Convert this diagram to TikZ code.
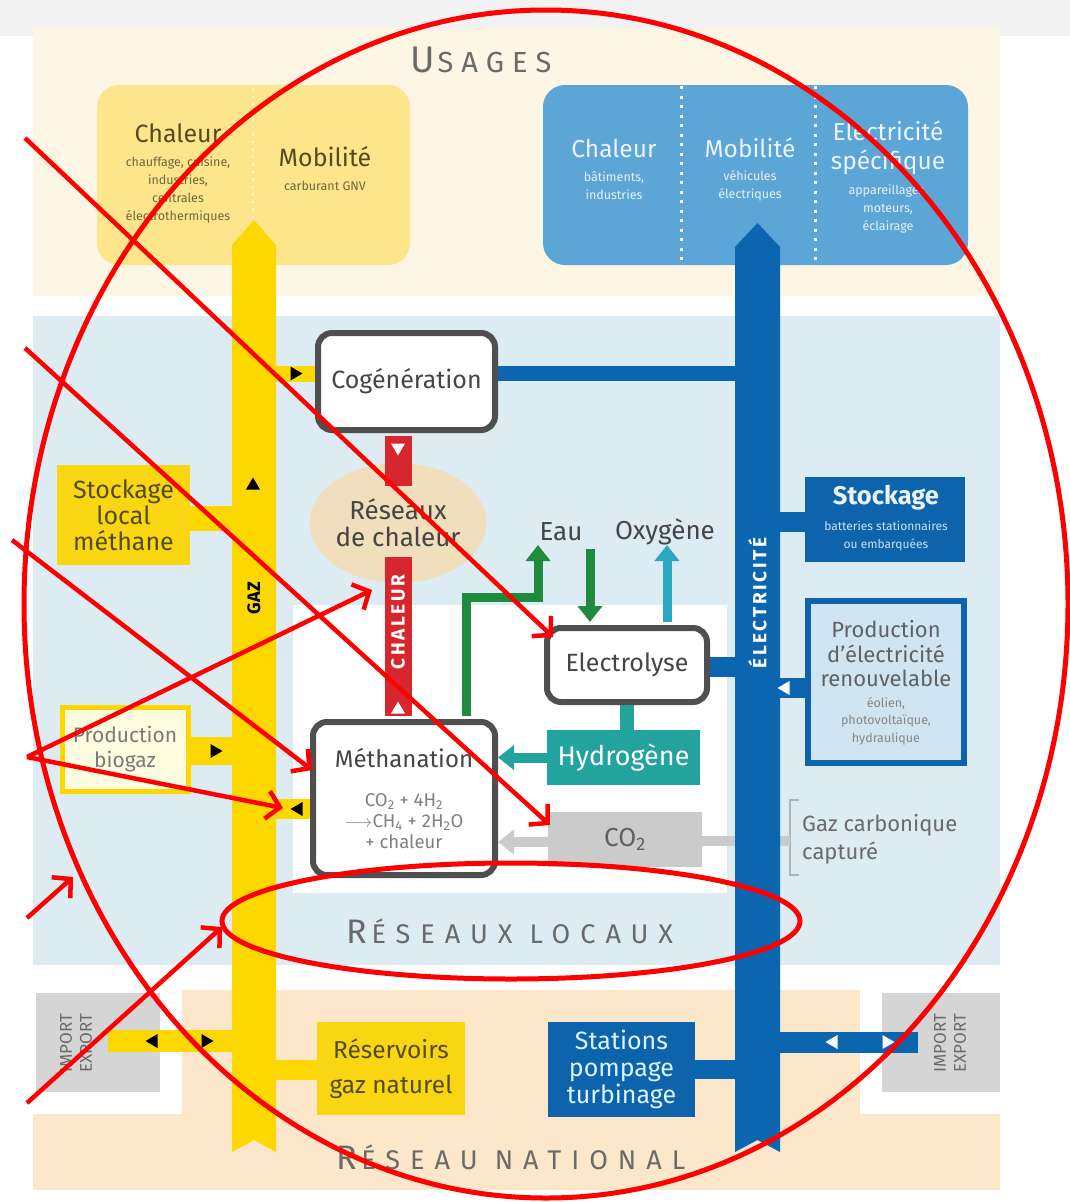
\documentclass[tikz,border=0pt]{standalone}
\usepackage{fontspec}
\setmainfont{Fira Sans}
\newfontfamily\spc[LetterSpace=28]{Fira Sans}
\newfontfamily\spcw[LetterSpace=37]{Fira Sans}
\newfontfamily\spcs[LetterSpace=14]{Fira Sans}
\usetikzlibrary{arrows.meta,shapes.geometric,calc}
\definecolor{topgray}{HTML}{F2F2F2}
\definecolor{creambg}{HTML}{FDF6E4}
\definecolor{localbg}{HTML}{DCECF2}
\definecolor{natbg}{HTML}{FCE7CB}
\definecolor{iegray}{HTML}{D5D5D5}
\definecolor{gasY}{HTML}{FCD800}
\definecolor{gasbox}{HTML}{F9D612}
\definecolor{useY}{HTML}{FDE58C}
\definecolor{useB}{HTML}{5BA5D7}
\definecolor{elB}{HTML}{0B66AF}
\definecolor{boxB}{HTML}{0D63AC}
\definecolor{prodfill}{HTML}{CFE6F2}
\definecolor{hydT}{HTML}{22A39D}
\definecolor{oxyT}{HTML}{2BA7C2}
\definecolor{greenL}{HTML}{1E8B3E}
\definecolor{heatR}{HTML}{D7262E}
\definecolor{beigeE}{HTML}{F0DEBC}
\definecolor{bordG}{HTML}{4F4F4F}
\definecolor{co2G}{HTML}{CBCBCB}
\definecolor{txtG}{HTML}{454545}
\definecolor{oliveT}{HTML}{554B1E}
\definecolor{annR}{HTML}{FF0000}
\newcommand\fz[2]{\fontsize{#1}{#2}\selectfont}
\newcommand\trimark[4]{\fill[#4, shift={(#1,#2)}, rotate=#3] (6.5,0) -- (-5.5,7) -- (-5.5,-7) -- cycle;}
\tikzset{
  lbl/.style={inner sep=0, align=center, text=txtG},
  usebox/.style={rounded corners=22, inner sep=0},
  procbox/.style={draw=bordG, line width=6, rounded corners=14, fill=white, inner sep=0},
  flatbox/.style={inner sep=0, align=center},
  gasline/.style={draw=gasY, line width=#1},
  elline/.style={draw=elB, line width=#1},
  heatbar/.style={draw=heatR, line width=27},
  ann/.style={draw=annR, line width=4.5, -{Straight Barb[length=13pt,width=28pt]}},
  annell/.style={draw=annR, line width=5},
}
\begin{document}
\begin{tikzpicture}[x=1pt,y=-1pt]
\useasboundingbox (0,0) rectangle (1070,1202);
% backgrounds
\fill[white] (0,0) rectangle (1070,1202);
\fill[topgray] (0,0) rectangle (1070,36);
\fill[creambg] (33,28) rectangle (1000,296);
\fill[localbg] (33,316) rectangle (1000,965);
\fill[white] (293,605) rectangle (727,893);
\fill[natbg] (33,990) rectangle (1000,1190);
\fill[white] (33,990) rectangle (182,1114);
\fill[iegray] (36,993) rectangle (160,1092);
\fill[white] (860,990) rectangle (1000,1114);
\fill[iegray] (882,993) rectangle (1000,1092);

% section titles
\node[lbl, text=txtG!80] (usages) at (481,60) {\spc\fz{37}{37}U\kern2.5pt\fz{29}{29}SAGES};
\node[lbl, text=txtG!80] (reslocaux) at (510,931) {\spcw\fz{34}{34}R\kern4pt\fz{27}{27}ÉSEAUX LOCAUX};
\node[lbl, text=txtG!80] (resnat) at (511,1157) {\spcw\fz{34}{34}R\kern4pt\fz{27}{27}ÉSEAU NATIONAL};

% usage boxes
\node[usebox, fill=useY, minimum width=313, minimum height=180] (useg) at (253.5,175) {};
\node[usebox, fill=useB, minimum width=425, minimum height=180] (useb) at (755.5,175) {};
\draw[white!55!useY, line width=2.5, dash pattern=on 2.5 off 5] (253,88) -- (253,262);
\draw[white, line width=3, dash pattern=on 3 off 6.5] (681,86) -- (681,264);
\draw[white, line width=3, dash pattern=on 3 off 6.5] (815,86) -- (815,264);
\node[lbl, text=oliveT, font=\fz{25}{28}] (uc1) at (178,133) {Chaleur};
\node[lbl, text=oliveT!85, font=\fz{12.5}{18}] (uc1s) at (178,189.5) {chauffage, cuisine,\\industries,\\centrales\\électrothermiques};
\node[lbl, text=oliveT, font=\fz{25}{28}] (um1) at (325,157) {Mobilité};
\node[lbl, text=oliveT!85, font=\fz{12.5}{18}] (um1s) at (325,186) {carburant GNV};
\node[lbl, text=white!88!useB, font=\fz{24.5}{29}] (ub1) at (614,148) {Chaleur};
\node[lbl, text=white!85!useB, font=\fz{12.5}{18}] (ub1s) at (614,186) {bâtiments,\\industries};
\node[lbl, text=white!88!useB, font=\fz{24.5}{29}] (ub2) at (750,148) {Mobilité};
\node[lbl, text=white!85!useB, font=\fz{12.5}{18}] (ub2s) at (750,186) {véhicules\\électriques};
\node[lbl, text=white!88!useB, font=\fz{24.5}{29}] (ub3) at (888,147.5) {Electricité\\spécifique};
\node[lbl, text=white!85!useB, font=\fz{12.5}{18}] (ub3s) at (888,209) {appareillages,\\moteurs,\\éclairage};

% column reference coordinates
\coordinate (gazcol) at (254,600);
\coordinate (elcol) at (757.5,600);

% main boxes
\node[procbox, minimum width=177, minimum height=97, font=\fz{25}{28}, text=txtG] (cog) at (406.5,381.5) {Cogénération};
\node[ellipse, fill=beigeE, minimum width=174, minimum height=120, inner sep=0, align=center, font=\fz{26}{27}, text=txtG] (rc) at (398,523) {Réseaux\\de chaleur};
\node[procbox, minimum width=182, minimum height=153] (meth) at (404,798.5) {};
\node[lbl, font=\fz{24}{28}] (methT) at (404,758) {Méthanation};
\node[lbl, text=gray, font=\fz{18.5}{22}] (methF) at (404,821) {CO\textsubscript{2} + 4H\textsubscript{2}\\[-1pt]$\longrightarrow$CH\textsubscript{4} + 2H\textsubscript{2}O\\[-1pt]+ chaleur};
\node[procbox, minimum width=160, minimum height=74, font=\fz{25}{28}, text=txtG] (elec) at (627,665) {Electrolyse};
\node[flatbox, fill=hydT, minimum width=153, minimum height=55, text=white, font=\fz{27}{30}] (hyd) at (623.5,757.5) {Hydrogène};
\node[flatbox, fill=co2G, minimum width=154, minimum height=55, text=txtG!85, font=\fz{26}{30}] (co2) at (625,839.5) {CO\textsubscript{2}};
\node[lbl, font=\fz{26}{28}] (eau) at (561,532) {Eau};
\node[lbl, font=\fz{26}{28}] (oxy) at (665,532) {Oxygène};

\node[flatbox, fill=gasbox, minimum width=133, minimum height=100, text=oliveT, font=\fz{25}{26}] (sloc) at (123.5,515) {Stockage\\local\\méthane};
\node[flatbox, fill=white!80!yellow!60!white, draw=gasY, line width=5, minimum width=126, minimum height=84, text=gray!95!black, font=\fz{21}{25}] (biog) at (125,749) {Production\\biogaz};
\node[flatbox, fill=boxB, minimum width=160, minimum height=85] (stk) at (885,519.5) {};
\node[lbl, text=white!92!boxB, font=\bfseries\fz{25.5}{28}] (stkT) at (886,498) {Stockage};
\node[lbl, text=white!80!boxB, font=\fz{12}{18}] (stkS) at (886,536) {batteries stationnaires\\ou embarquées};
\node[flatbox, fill=prodfill, draw=boxB, line width=6, minimum width=156, minimum height=162] (prod) at (886,681.5) {};
\node[lbl, text=txtG!85, font=\fz{22}{24.5}] (prodT) at (886,654) {Production\\d'électricité\\renouvelable};
\node[lbl, text=txtG!65, font=\fz{12.5}{17.5}] (prodS) at (886,721) {éolien,\\photovoltaïque,\\hydraulique};
\node[lbl, anchor=west, align=left, text=txtG!80, font=\fz{22}{28}] (gazcarb) at (802,839) {Gaz carbonique\\capturé};
\draw[gray!60, line width=2] (799,800) -- (790,800) -- (790,875) -- (799,875);
\coordinate (brk) at (790,841);

\node[flatbox, fill=gasbox, minimum width=148, minimum height=93, text=oliveT, font=\fz{24.5}{35}] (resv) at (391,1068.5) {Réservoirs\\gaz naturel};
\node[flatbox, fill=boxB, minimum width=147, minimum height=95, text=white!80!cyan!70!white, font=\fz{25}{27}] (stat) at (621.5,1069.5) {Stations\\pompage\\turbinage};
\node[lbl, rotate=90, text=txtG!80, font=\fz{17}{20}] (ieL) at (76,1043) {IMPORT\\EXPORT};
\node[lbl, rotate=90, text=txtG!80, font=\fz{17}{20}] (ieR) at (950,1043) {IMPORT\\EXPORT};
\coordinate (ieLend) at (108,1041);
\coordinate (ieRend) at (918,1042);

% connector anchor points
\coordinate (cogin) at ($(cog.west)+(0,-8)$);
\coordinate (cogout) at ($(cog.east)+(0,-8)$);
\coordinate (slocA) at ($(sloc.east)+(0,3)$);
\coordinate (biogA) at ($(biog.east)+(0,2)$);
\coordinate (methin) at ($(meth.west)+(0,10)$);
\coordinate (resin) at ($(resv.west)+(0,1.5)$);
\coordinate (stkA) at ($(stk.west)+(0,2)$);
\coordinate (prodA) at ($(prod.west)+(0,6.5)$);
\coordinate (elecA) at ($(elec.east)+(0,2)$);
\coordinate (co2A) at ($(co2.west)+(0,2.5)$);

% connectors
\draw[gasline=16] (cogin) -- (cogin -| gazcol);
\draw[elline=15] (cogout) -- (cogout -| elcol);
\draw[gasline=25] (slocA) -- (slocA -| gazcol);
\draw[gasline=28] (biogA) -- (biogA -| gazcol);
\draw[gasline=20] (methin) -- (methin -| gazcol);
\draw[gasline=20] (resin) -- (resin -| gazcol);
\draw[gasline=22] (ieLend) -- (ieLend -| gazcol);

\draw[elline=20] (stkA) -- (stkA -| elcol);
\draw[elline=20] (prodA) -- (prodA -| elcol);
\draw[elline=20] (elecA) -- (elecA -| elcol);
\draw[elline=19] (stat.east) -- (stat.east -| elcol);
\draw[elline=21] (ieRend) -- (ieRend -| elcol);

\draw[co2G, line width=10] (co2.east |- brk) -- (brk);
\draw[co2G, line width=10, -{Triangle[length=16pt,width=24pt]}] (co2A) -- (co2A -| meth.east);
\draw[hydT, line width=10, -{Triangle[length=16pt,width=24pt]}] (hyd.west) -- (hyd.west -| meth.east);
\draw[hydT, line width=14] (elec.south) -- (elec.south |- hyd.north);

\coordinate (g1) at ($(meth.north east)+(-32,-3)$);
\coordinate (gturn) at (538,597);
\coordinate (eauup) at (538,545);
\coordinate (eaudn) at (590,549);
\coordinate (oxyup) at (667,545);
\coordinate (eaudnE) at ($(elec.north -| eaudn)+(0,-3)$);
\coordinate (oxyS) at ($(elec.north -| oxyup)+(0,-3)$);
\draw[greenL, line width=9, -{Triangle[length=16pt,width=24pt]}] (g1) |- (gturn) -- (eauup);
\draw[greenL, line width=9, -{Triangle[length=16pt,width=24pt]}] (eaudn) -- (eaudnE);
\draw[oxyT, line width=9, -{Triangle[length=16pt,width=24pt]}] (oxyS) -- (oxyup);

\coordinate (hb1) at ($(rc.north |- cog.south)+(0,3)$);
\coordinate (hb2) at ($(rc.north)+(0,23)$);
\coordinate (hb3) at ($(rc.south)+(0,-26)$);
\coordinate (hb4) at ($(rc.south |- meth.north)+(0,-3)$);
\draw[heatbar] (hb1) -- (hb2);
\draw[heatbar] (hb3) -- (hb4);

% columns
\fill[gasY] (232,245) -- (254,220) -- (276,245) -- (276,1152) -- (254,1140) -- (232,1152) -- cycle;
\fill[elB] (735,247) -- (757.5,223) -- (780,247) -- (780,1152) -- (757.5,1140) -- (735,1152) -- cycle;

% labels on columns and bars
\node[lbl, rotate=90, text=black, font=\bfseries\fz{18}{20}] (gazlbl) at (254,598) {GAZ};
\node[lbl, rotate=90, text=white, font=\bfseries\spcs\fz{19}{20}] (ellbl) at (757.5,603) {ÉLECTRICITÉ};
\node[lbl, rotate=90, text=white, font=\bfseries\spcs\fz{19}{20}] (chlbl) at (398,622) {CHALEUR};

% flow triangles
\trimark{296}{373.5}{0}{black}
\trimark{253}{484}{90}{black}
\trimark{216}{751}{0}{black}
\trimark{297}{809}{180}{black}
\trimark{152}{1041}{180}{black}
\trimark{207}{1041}{0}{black}
\trimark{398}{449}{-90}{white}
\trimark{398}{708}{90}{white}
\trimark{784}{688}{180}{white}
\trimark{832}{1042}{180}{white}
\trimark{888}{1042}{0}{white}

% red annotations
\draw[annell] (546,604) ellipse [x radius=522, y radius=594];
\draw[annell] (511,921) ellipse [x radius=289, y radius=58];
\draw[ann] (25,138) -- (553,637);
\draw[ann] (25,348) -- (550,825);
\draw[ann] (12,540) -- (312,770);
\draw[ann] (27,757) -- (372,590);
\draw[ann] (27,757) -- (283,808);
\draw[ann] (27,918) -- (73,877);
\draw[ann] (27,1103) -- (222,927);
\end{tikzpicture}
\end{document}
